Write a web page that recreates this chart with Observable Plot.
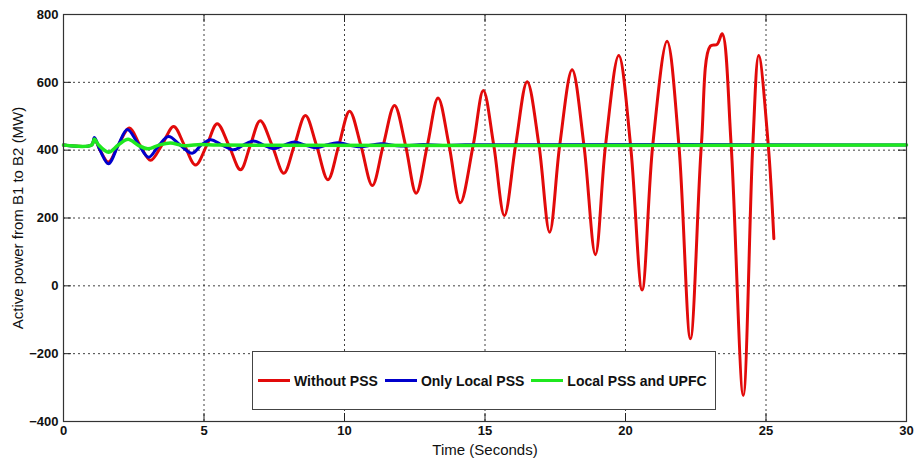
<!DOCTYPE html>
<html>
<head>
<meta charset="utf-8">
<script src="https://cdn.jsdelivr.net/npm/d3@7"></script>
<script src="https://cdn.jsdelivr.net/npm/@observablehq/plot@0.6"></script>
<style>
  html, body { margin: 0; padding: 0; background: #fff; }
  #wrap { position: relative; width: 916px; height: 461px; font-family: "Liberation Sans", Arial, sans-serif; }
  #legend { position: absolute; left: 252px; top: 351px; width: 464px; height: 59px; box-sizing: border-box;
            border: 1px solid #444; background: #fff; display: flex; align-items: center; padding-left: 5px;
            font-weight: bold; font-size: 14px; color: #111; }
  #legend .sw { width: 32px; height: 3.5px; margin-right: 4px; }
  #legend .lb { margin-right: 7px; white-space: nowrap; }
</style>
</head>
<body>
<div id="wrap"></div>
<script>
// ---- data ----
const xTicks = [0, 5, 10, 15, 20, 25, 30];
const yTicks = [-400, -200, 0, 200, 400, 600, 800];
const xLabel = "Time (Seconds)";
const yLabel = "Active power from B1 to B2 (MW)";
const seriesNames = ["Without PSS", "Only Local PSS", "Local PSS and UPFC"];
const seriesColors = ["#e20a0a", "#0000cc", "#1fe81f"];

// Without PSS
const redT = [0, 1.0, 1.1, 1.3, 1.6, 1.95, 2.35, 2.72, 3.1, 3.5, 3.92, 4.3, 4.7, 5.1, 5.47, 5.88, 6.3, 6.65, 7.0, 7.42, 7.84, 8.22, 8.61, 9.0, 9.41, 9.8, 10.18, 10.58, 10.99, 11.38, 11.78, 12.17, 12.55, 12.95, 13.33, 13.72, 14.12, 14.58, 14.94, 15.31, 15.69, 16.09, 16.5, 16.92, 17.3, 17.66, 18.1, 18.52, 18.93, 19.29, 19.76, 20.18, 20.59, 20.97, 21.48, 21.9, 22.31, 22.7, 23.02, 23.26, 23.44, 23.76, 24.19, 24.53, 24.74, 25.08, 25.28];
const redP = [415, 415, 434, 400, 365, 415, 465, 415, 370, 415, 470, 415, 356, 415, 478, 415, 342, 415, 487, 415, 332, 415, 502, 415, 313, 415, 515, 415, 296, 415, 532, 415, 273, 415, 554, 415, 245, 415, 576, 415, 207, 415, 602, 415, 158, 415, 637, 415, 92, 415, 679, 415, -12, 415, 721, 415, -156, 415, 707, 712, 743, 415, -323, 415, 679, 415, 139];

// Only Local PSS
const blueT = [0, 1.0, 1.1, 1.3, 1.6, 1.95, 2.27, 2.65, 3.03, 3.4, 3.74, 4.15, 4.58, 4.9, 5.23, 5.65, 6.05, 6.4, 6.77, 7.12, 7.47, 7.85, 8.22, 8.6, 8.97, 9.35, 9.75, 10.5, 11.3, 12.0, 12.8, 13.5, 14.3, 30];
const blueP = [415, 415, 437, 400, 360, 415, 461, 420, 379, 415, 440, 415, 391, 415, 431, 415, 401, 415, 427, 415, 404, 415, 424, 415, 407, 415, 422, 410, 419, 412, 417, 414, 416, 415];

// Local PSS and UPFC
const greenT = [0, 1.0, 1.1, 1.25, 1.6, 1.95, 2.3, 2.65, 3.0, 3.4, 3.8, 4.3, 4.9, 5.5, 30];
const greenP = [415, 415, 433, 415, 394, 415, 432, 415, 404, 415, 421, 413, 417, 415, 415];

const toRows = (T, P) => T.map((t, i) => ({t, p: P[i]}));
const red = toRows(redT, redP), blue = toRows(blueT, blueP), green = toRows(greenT, greenP);

const W = 916, H = 461, mL = 63, mR = 10, mT = 14, mB = 40;
const innerW = W - mL - mR, innerH = H - mT - mB, tickLen = 8;

const chart = Plot.plot({
  width: W, height: H, marginLeft: mL, marginRight: mR, marginTop: mT, marginBottom: mB,
  style: {fontFamily: "'Liberation Sans', Arial, sans-serif", background: "#fff", color: "#111"},
  x: {domain: [0, 30], ticks: xTicks, label: null},
  y: {domain: [-400, 800], ticks: yTicks, label: null},
  marks: [
    Plot.gridX(xTicks, {stroke: "#000", strokeOpacity: 0.75, strokeDasharray: "2,3"}),
    Plot.gridY(yTicks, {stroke: "#000", strokeOpacity: 0.75, strokeDasharray: "2,3"}),
    Plot.line(red, {x: "t", y: "p", stroke: seriesColors[0], strokeWidth: 3, curve: "catmull-rom"}),
    Plot.line(blue, {x: "t", y: "p", stroke: seriesColors[1], strokeWidth: 3, curve: "catmull-rom"}),
    Plot.line(green, {x: "t", y: "p", stroke: seriesColors[2], strokeWidth: 3.5, curve: "catmull-rom"}),
    // inward tick marks on all four sides
    Plot.tickX(xTicks, {x: d => d, insetTop: innerH - tickLen, stroke: "#222"}),
    Plot.tickX(xTicks, {x: d => d, insetBottom: innerH - tickLen, stroke: "#222"}),
    Plot.tickY(yTicks, {y: d => d, insetRight: innerW - tickLen, stroke: "#222"}),
    Plot.tickY(yTicks, {y: d => d, insetLeft: innerW - tickLen, stroke: "#222"}),
    Plot.frame({stroke: "#333", strokeWidth: 1.2}),
    Plot.axisX(xTicks, {tickSize: 0, tickPadding: 4, fontSize: 13, fontWeight: "bold", label: null}),
    Plot.axisY(yTicks, {tickSize: 0, tickPadding: 5, fontSize: 13, fontWeight: "bold", label: null}),
    Plot.text([xLabel], {frameAnchor: "bottom", textAnchor: "middle", dy: 33, fontSize: 15, fill: "#111"}),
    Plot.text([yLabel], {frameAnchor: "left", textAnchor: "middle", lineAnchor: "middle", dx: -45, rotate: -90, fontSize: 15, fill: "#111"})
  ]
});
const wrap = document.getElementById("wrap");
wrap.appendChild(chart);

const legend = document.createElement("div");
legend.id = "legend";
seriesNames.forEach((name, i) => {
  const sw = document.createElement("span");
  sw.className = "sw"; sw.style.background = seriesColors[i];
  const lb = document.createElement("span");
  lb.className = "lb"; lb.textContent = name;
  legend.appendChild(sw); legend.appendChild(lb);
});
wrap.appendChild(legend);
</script>
</body>
</html>
